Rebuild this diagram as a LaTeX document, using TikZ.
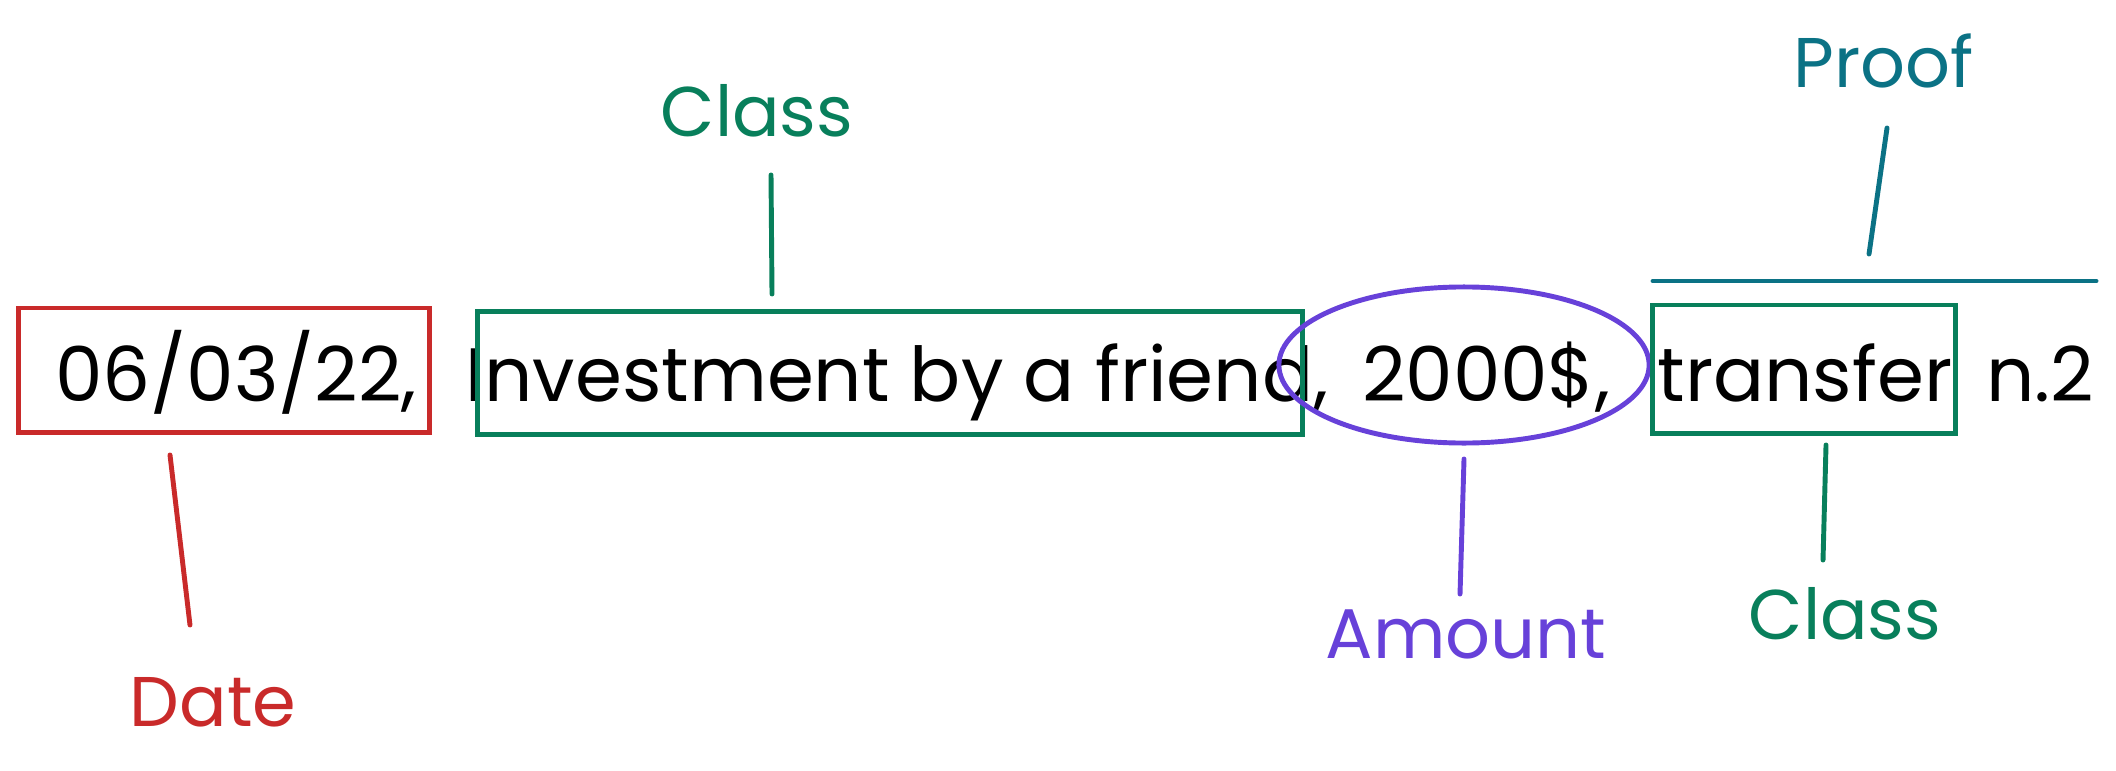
\documentclass[tikz,border=0pt]{standalone}
\usepackage{fontspec}
\setmainfont{Poppins}
\usepackage{xcolor}
\usetikzlibrary{shapes.geometric, positioning}

\definecolor{cdate}{HTML}{C92A2A}
\definecolor{cclass}{HTML}{087F5B}
\definecolor{camount}{HTML}{6741D9}
\definecolor{cproof}{HTML}{0B7285}

\tikzset{
    linetext/.style={anchor=base, inner sep=0pt, font=\fontsize{21.5}{26}\selectfont},
    lbl/.style={inner sep=0pt, font=\fontsize{20}{24}\selectfont},
    markbox/.style={draw, line width=1.4pt, rectangle, inner sep=0pt},
    wire/.style={line width=1.4pt, line cap=round}
}

\begin{document}
\begin{tikzpicture}[x=0.01cm, y=-0.01cm]
    \useasboundingbox (0,0) rectangle (2116,770);

    % The record line
    \node[linetext] (tdate) at (236,401) {06/03/22,};
    \node[linetext] (tclass) at (897,401) {Investment by a friend,};
    \node[linetext] (tamount) at (1486,401) {2000\$,};
    \node[linetext] (ttransfer) at (1805,401) {transfer};
    \node[linetext] (tnum) at (2040,401) {n.2};

    % Marks round the fields
    \node[markbox, cdate, minimum width=4.11cm, minimum height=1.24cm] (datebox) at (224,370) {};
    \node[markbox, cclass, minimum width=8.24cm, minimum height=1.23cm] (classbox) at (890,373) {};
    \node[draw, ellipse, camount, line width=1.4pt, minimum width=3.7cm, minimum height=1.56cm] (amountring) at (1464,365) {};
    \node[markbox, cclass, minimum width=3.02cm, minimum height=1.28cm] (transferbox) at (1804,369) {};
    \coordinate (pl) at (1653,281);
    \coordinate (pr) at (2096,281);
    \draw[wire, cproof] (pl) -- (pr);

    % Labels
    \node[lbl, cclass] (lclass) at (757,111) {Class};
    \node[lbl, cproof] (lproof) at (1884,61) {Proof};
    \node[lbl, cdate] (ldate) at (213,702) {Date};
    \node[lbl, camount] (lamount) at (1466,634) {Amount};
    \node[lbl, cclass] (lclass2) at (1845,614) {Class};

    % Connector ends
    \coordinate (d1) at (170,455);
    \coordinate (d2) at (190,625);
    \coordinate (c1) at (771,175);
    \coordinate (c2) at (772,294);
    \coordinate (p1) at (1887,128);
    \coordinate (p2) at (1869,254);
    \coordinate (a1) at (1464,459);
    \coordinate (a2) at (1460,594);
    \coordinate (k1) at (1826,445);
    \coordinate (k2) at (1823,560);

    \draw[wire, cdate] (d1) -- (d2);
    \draw[wire, cclass] (c1) -- (c2);
    \draw[wire, cproof] (p1) -- (p2);
    \draw[wire, camount] (a1) -- (a2);
    \draw[wire, cclass] (k1) -- (k2);
\end{tikzpicture}
\end{document}
